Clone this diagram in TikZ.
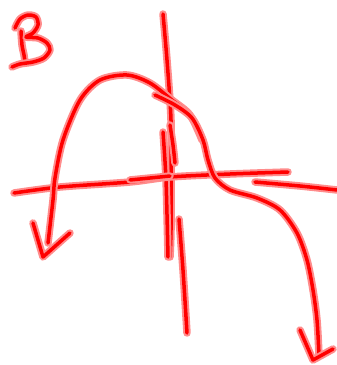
\documentclass[tikz,border=0pt]{standalone}
\usepackage{tikz}
\tikzset{
  inkstroke/.style={
    preaction={draw=red!45, line width=7.5pt, line cap=round, line join=round},
    draw=red,
    line width=3.5pt,
    line cap=round,
    line join=round
  }
}

\begin{document}
\begin{tikzpicture}[x=1pt, y=-1pt]
\useasboundingbox (0,0) rectangle (337,365);

% letter B
\draw[inkstroke] plot[smooth] coordinates {(21,31) (22,45) (24,55) (25,62)};
\draw[inkstroke] plot[smooth] coordinates {(15,28) (20,19) (28,15) (36,17) (38,25) (33,33) (26,37) (38,38) (47,43) (50,50) (44,58) (33,62) (20,64) (12,67)};

% axes
\draw[inkstroke] plot[smooth] coordinates {(163,14) (167,60) (171,120) (171,180) (171,230) (170,257)};
\draw[inkstroke] plot[smooth] coordinates {(163,132) (166,180) (168,257)};
\draw[inkstroke] plot[smooth] coordinates {(170,125) (173,145) (175,163)};
\draw[inkstroke] plot[smooth] coordinates {(179,219) (183,270) (187,333)};
\draw[inkstroke] plot[smooth] coordinates {(14,193) (60,187) (130,182) (170,177) (230,174) (288,172)};
\draw[inkstroke] plot[smooth] coordinates {(130,180) (150,178) (170,176)};
\draw[inkstroke] plot[smooth] coordinates {(255,182) (300,186) (337,190)};

% curve, left branch
\draw[inkstroke] plot[smooth] coordinates {(48,243) (53,200) (55,178) (63,140) (80,100) (100,80) (127,75) (150,83) (172,100) (190,115) (202,140)};
\draw[inkstroke] (33,223) -- (43,257) -- (70,233);

% curve, right branch
\draw[inkstroke] plot[smooth] coordinates {(155,95) (175,105) (192,118) (203,140) (208,160) (215,178) (230,190) (257,198) (280,210) (297,233) (307,260) (313,290) (317,320) (319,355)};
\draw[inkstroke] (300,330) -- (313,360) -- (333,349);
\end{tikzpicture}
\end{document}
